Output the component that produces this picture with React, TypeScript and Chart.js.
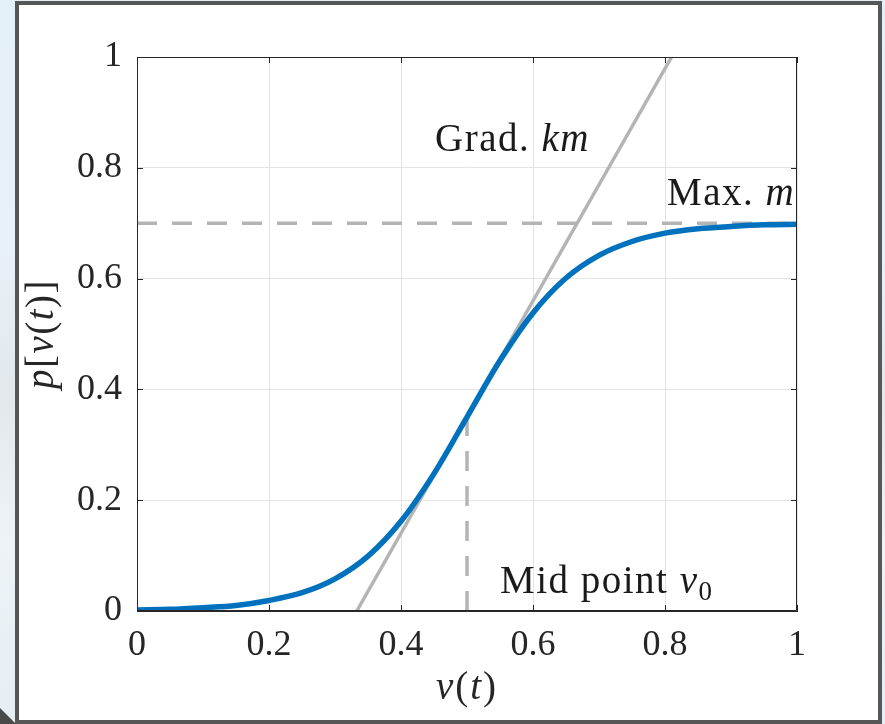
import React, { useEffect, useRef } from "react";
import { Chart, registerables } from "chart.js";

Chart.register(...registerables);

// Sigmoid curve
const curveX = [0, 0.05, 0.1, 0.15, 0.2, 0.25, 0.3, 0.35, 0.4, 0.45, 0.5, 0.55, 0.6, 0.65, 0.7, 0.75, 0.8, 0.85, 0.9, 0.95, 1];
const curveY = [0.002, 0.003, 0.006, 0.010, 0.019, 0.033, 0.058, 0.099, 0.162, 0.248, 0.35, 0.452, 0.538, 0.601, 0.642, 0.667, 0.682, 0.690, 0.694, 0.697, 0.698];

// Tangent line (gradient km)
const tangentX = [0.333, 0.81];
const tangentY = [0, 1];

// Max level m and mid point v0
const maxLevel = 0.7;
const maxLineX = [0, 1];
const midPointX = 0.5;
const midPointY = 0.35;

const tickValues = [0, 0.2, 0.4, 0.6, 0.8, 1];

const FONT = "'Liberation Serif', 'Times New Roman', serif";
const FS = 36;
const AFS = 39;

type Run = { t: string; it?: boolean; sub?: boolean };

function runFont(r: Run, size: number) {
  const s = r.sub ? Math.round(size * 0.7) : size;
  return `${r.it ? "italic " : ""}${s}px ${FONT}`;
}

function drawRuns(
  ctx: CanvasRenderingContext2D,
  runs: Run[],
  x: number,
  y: number,
  align: "left" | "center",
  size: number,
  spacing: number
) {
  ctx.textBaseline = "alphabetic";
  ctx.textAlign = "left";
  (ctx as any).letterSpacing = `${spacing}px`;
  let total = 0;
  for (const r of runs) {
    ctx.font = runFont(r, size);
    total += ctx.measureText(r.t).width;
  }
  let cx = align === "center" ? x - total / 2 : x;
  for (const r of runs) {
    ctx.font = runFont(r, size);
    ctx.fillText(r.t, cx, y + (r.sub ? size * 0.17 : 0));
    cx += ctx.measureText(r.t).width;
  }
  (ctx as any).letterSpacing = "0px";
}

const matlabPlugin = {
  id: "matlabAxes",
  afterDatasetsDraw(chart: any) {
    const { ctx, chartArea } = chart;
    const { left, right, top, bottom } = chartArea;
    const xs = chart.scales.x;
    const ys = chart.scales.y;
    ctx.save();
    // box
    ctx.strokeStyle = "#262626";
    ctx.lineWidth = 1;
    ctx.beginPath();
    ctx.moveTo(left + 0.5, top + 0.5);
    ctx.lineTo(right - 0.5, top + 0.5);
    ctx.lineTo(right - 0.5, bottom - 0.5);
    ctx.lineTo(left + 0.5, bottom - 0.5);
    ctx.closePath();
    ctx.stroke();
    // inward ticks
    const tl = 6;
    ctx.beginPath();
    for (const v of tickValues) {
      const px = Math.round(xs.getPixelForValue(v)) + 0.5;
      ctx.moveTo(px, bottom);
      ctx.lineTo(px, bottom - tl);
      ctx.moveTo(px, top);
      ctx.lineTo(px, top + tl);
      const py = Math.round(ys.getPixelForValue(v)) + 0.5;
      ctx.moveTo(left, py);
      ctx.lineTo(left + tl, py);
      ctx.moveTo(right, py);
      ctx.lineTo(right - tl, py);
    }
    ctx.stroke();

    // annotations (clipped to axes)
    ctx.beginPath();
    ctx.rect(left, top, right - left, bottom - top);
    ctx.clip();
    ctx.fillStyle = "#1a1a1a";
    drawRuns(ctx, [{ t: "Grad. " }, { t: "km", it: true }], 435, 151, "left", AFS, 1.5);
    drawRuns(ctx, [{ t: "Max. " }, { t: "m", it: true }], 667, 205, "left", AFS, 1.5);
    drawRuns(ctx, [{ t: "Mid point " }, { t: "v", it: true }, { t: "0", sub: true }], 500, 593, "left", AFS, 1.5);
    ctx.restore();
  },
  afterDraw(chart: any) {
    const { ctx, chartArea } = chart;
    ctx.save();
    ctx.fillStyle = "#262626";
    const cx = (chartArea.left + chartArea.right) / 2;
    drawRuns(ctx, [{ t: "v", it: true }, { t: "(" }, { t: "t", it: true }, { t: ")" }], cx, 699, "center", AFS, 2);
    const cy = (chartArea.top + chartArea.bottom) / 2;
    ctx.translate(53, cy);
    ctx.rotate(-Math.PI / 2);
    drawRuns(
      ctx,
      [{ t: "p", it: true }, { t: "[" }, { t: "v", it: true }, { t: "(" }, { t: "t", it: true }, { t: ")]" }],
      0,
      0,
      "center",
      AFS,
      1.5
    );
    ctx.restore();
  },
};

export default function App() {
  const ref = useRef<HTMLCanvasElement | null>(null);

  useEffect(() => {
    if (!ref.current) return;
    const gray = "#b4b4b4";
    const chart = new Chart(ref.current, {
      type: "line",
      data: {
        datasets: [
          {
            data: curveX.map((x, i) => ({ x, y: curveY[i] })),
            borderColor: "#0072BD",
            borderWidth: 5.5,
            pointRadius: 0,
            cubicInterpolationMode: "monotone",
            fill: false,
          },
          {
            data: tangentX.map((x, i) => ({ x, y: tangentY[i] })),
            borderColor: gray,
            borderWidth: 3.5,
            pointRadius: 0,
            fill: false,
          },
          {
            data: maxLineX.map((x) => ({ x, y: maxLevel })),
            borderColor: gray,
            borderWidth: 3.5,
            borderDash: [20, 15],
            pointRadius: 0,
            fill: false,
          },
          {
            data: [
              { x: midPointX, y: 0 },
              { x: midPointX, y: midPointY },
            ],
            borderColor: gray,
            borderWidth: 3.5,
            borderDash: [20, 15],
            pointRadius: 0,
            fill: false,
          },
        ],
      } as any,
      options: {
        responsive: false,
        devicePixelRatio: 1,
        animation: false,
        parsing: false as any,
        layout: { padding: { left: 0, top: 57, right: 88, bottom: 0 } },
        plugins: { legend: { display: false }, tooltip: { enabled: false } },
        scales: {
          x: {
            type: "linear",
            min: 0,
            max: 1,
            afterFit: (s: any) => {
              s.height = 113;
            },
            afterBuildTicks: (s: any) => {
              s.ticks = tickValues.map((v) => ({ value: v }));
            },
            ticks: {
              color: "#262626",
              font: { family: FONT, size: FS },
              padding: 13,
              maxRotation: 0,
              callback: (v: any) => String(Math.round(Number(v) * 10) / 10),
            },
            grid: { color: "#e3e3e3", lineWidth: 1, drawTicks: false },
            border: { display: true, color: "#262626", width: 1 },
          },
          y: {
            type: "linear",
            min: 0,
            max: 1,
            afterFit: (s: any) => {
              s.width = 137;
            },
            afterBuildTicks: (s: any) => {
              s.ticks = tickValues.map((v) => ({ value: v }));
            },
            ticks: {
              color: "#262626",
              font: { family: FONT, size: FS },
              padding: 15,
              callback: (v: any) => String(Math.round(Number(v) * 10) / 10),
            },
            grid: { color: "#e3e3e3", lineWidth: 1, drawTicks: false },
            border: { display: true, color: "#262626", width: 1 },
          },
        },
      } as any,
      plugins: [matlabPlugin],
    });
    return () => chart.destroy();
  }, []);

  return (
    <div
      style={{
        position: "fixed",
        left: 0,
        top: 0,
        width: 885,
        height: 724,
        overflow: "hidden",
        background: "linear-gradient(180deg, #e4f0f8 0%, #e8f1f7 35%, #e2e8ec 55%, #edf3f7 75%, #e6eef3 100%)",
      }}
    >
      <div
        style={{
          position: "absolute",
          left: 15,
          top: 1,
          width: 867,
          height: 723,
          boxSizing: "border-box",
          border: "4px solid #575757",
          background: "#ffffff",
        }}
      />
      <div
        style={{
          position: "absolute",
          left: 0,
          top: 708,
          width: 16,
          height: 16,
          background: "#4a4a4a",
          clipPath: "polygon(0 0, 100% 100%, 0 100%)",
        }}
      />
      <canvas ref={ref} width={885} height={724} style={{ position: "absolute", left: 0, top: 0 }} />
    </div>
  );
}
